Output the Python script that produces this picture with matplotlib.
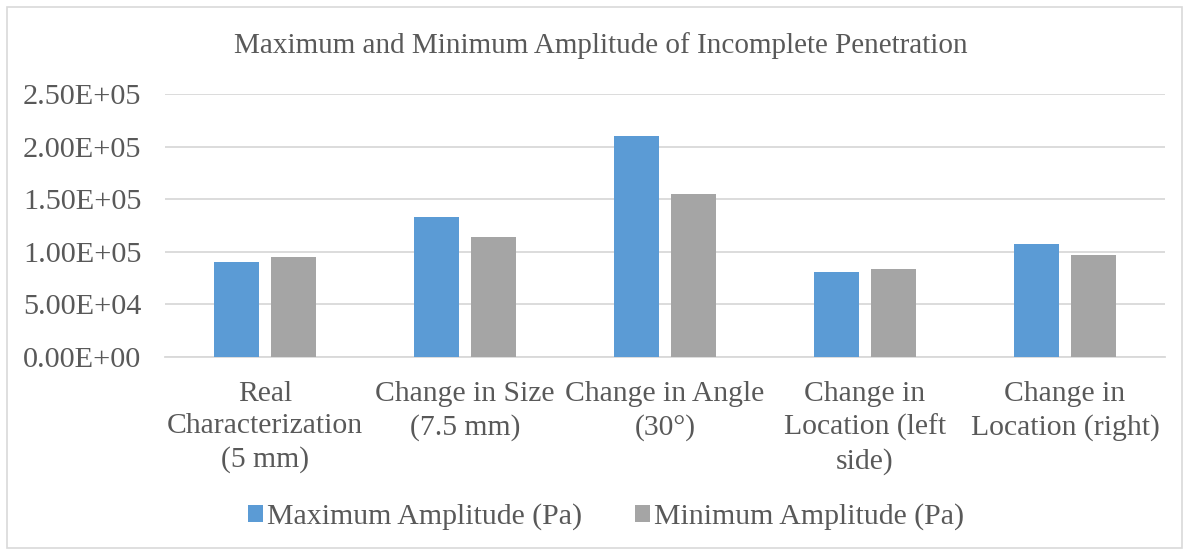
import matplotlib
matplotlib.use("Agg")
import matplotlib.pyplot as plt
from matplotlib.patches import Rectangle
import numpy as np

categories = [
    "Real\nCharacterization\n(5 mm)",
    "Change in Size\n(7.5 mm)",
    "Change in Angle\n(30°)",
    "Change in\nLocation (left\nside)",
    "Change in\nLocation (right)",
]
max_amp = [9.0e4, 1.33e5, 2.10e5, 8.1e4, 1.07e5]
min_amp = [9.5e4, 1.14e5, 1.55e5, 8.4e4, 9.7e4]
yticks = [0, 5e4, 1e5, 1.5e5, 2e5, 2.5e5]
ytick_labels = ["0.00E+00", "5.00E+04", "1.00E+05", "1.50E+05", "2.00E+05", "2.50E+05"]

plt.rcParams["font.family"] = ["Liberation Serif", "DejaVu Serif"]
text_color = "#595959"
grid_color = "#d9d9d9"

fig = plt.figure(figsize=(11.89, 5.51), dpi=100)
ax = fig.add_axes([165 / 1189, 1 - 357 / 551, 1000 / 1189, 263 / 551])

x = np.arange(len(categories))
width = 0.225
ax.bar(x - 0.1425, max_amp, width, color="#5b9bd5", label="Maximum Amplitude (Pa)", zorder=3)
ax.bar(x + 0.1425, min_amp, width, color="#a5a5a5", label="Minimum Amplitude (Pa)", zorder=3)

ax.set_xlim(-0.5, len(categories) - 0.5)
ax.set_ylim(0, 2.5e5)
ax.set_yticks(yticks)
ax.set_yticklabels(ytick_labels, fontsize=21.8, color=text_color)
ax.set_xticks(x)
ax.set_xticklabels(categories, fontsize=21.3, color=text_color, linespacing=1.34)
ax.tick_params(axis="both", length=0)
ax.tick_params(axis="y", pad=17)
ax.tick_params(axis="x", pad=17)
ax.yaxis.grid(True, color=grid_color, linewidth=1.3, zorder=0)
for side in ["top", "right", "left"]:
    ax.spines[side].set_visible(False)
ax.spines["bottom"].set_color(grid_color)
ax.spines["bottom"].set_linewidth(1.3)

fig.text(601 / 1189, 1 - 46 / 551, "Maximum and Minimum Amplitude of Incomplete Penetration",
         ha="center", va="center", fontsize=21, color=text_color)

leg = fig.legend(loc="center", bbox_to_anchor=(606 / 1189, 1 - 517 / 551), ncol=2,
                 frameon=False, fontsize=21.5, handlelength=0.5, handleheight=0.5,
                 handletextpad=0.15, columnspacing=1.75)
for t in leg.get_texts():
    t.set_color(text_color)

fig.patches.append(Rectangle((7 / 1189, 3 / 551), 1175 / 1189, 541 / 551,
                             transform=fig.transFigure, fill=False,
                             edgecolor=grid_color, linewidth=1.2))

fig.savefig("out.png", dpi=100)
plt.close(fig)
